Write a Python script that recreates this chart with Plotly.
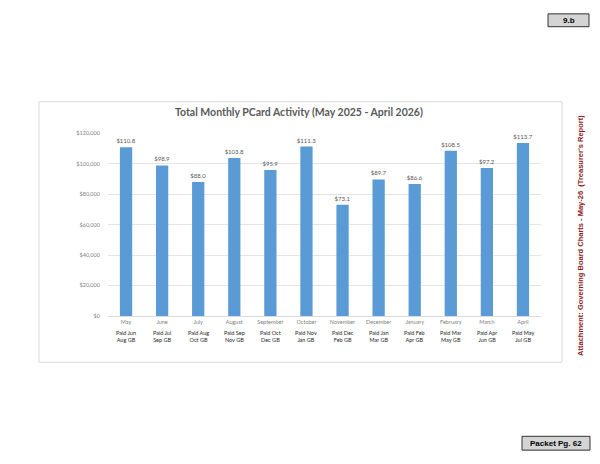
import plotly.graph_objects as go

months = ["May", "June", "July", "August", "September", "October", "November",
          "December", "January", "February", "March", "April"]
paid_labels = ["Paid Jun<br>Aug GB", "Paid Jul<br>Sep GB", "Paid Aug<br>Oct GB", "Paid Sep<br>Nov GB",
               "Paid Oct<br>Dec GB", "Paid Nov<br>Jan GB", "Paid Dec<br>Feb GB", "Paid Jan<br>Mar GB",
               "Paid Feb<br>Apr GB", "Paid Mar<br>May GB", "Paid Apr<br>Jun GB", "Paid May<br>Jul GB"]
values = [110800, 98900, 88000, 103800, 95900, 111300, 73100, 89700, 86600, 108500, 97200, 113700]
y_ticks = [0, 20000, 40000, 60000, 80000, 100000, 120000]
y_tick_text = ["$0", "$20,000", "$40,000", "$60,000", "$80,000", "$100,000", "$120,000"]
title = "Total Monthly PCard Activity (May 2025 - April 2026)"

W, H = 600, 464
def px(x):
    return x / W
def py(y):
    return 1 - y / H

fig = go.Figure()
fig.add_trace(go.Bar(
    x=months, y=values,
    marker=dict(color="#5b9bd5", line=dict(width=0)),
    width=0.34,
    text=["$%.1f" % (v / 1000) for v in values],
    textposition="outside",
    constraintext="none",
    textfont=dict(family="Lato", size=6, color="#595959"),
    cliponaxis=False,
))

annotations = []
for m, p in zip(months, paid_labels):
    annotations.append(dict(x=m, xref="x", y=py(337.5), yref="paper", text=p,
                            showarrow=False, font=dict(family="Lato", size=5.5, color="#262626"),
                            align="center", yanchor="middle"))
annotations.append(dict(x=px(298.5), y=py(110), xref="paper", yref="paper", text="<b>" + title + "</b>",
                        showarrow=False, font=dict(family="Lato", size=10.5, color="#595959"),
                        xanchor="center", yanchor="middle"))
annotations.append(dict(x=px(568.5), y=py(17.5), xref="paper", yref="paper", text="<b>9.b</b>",
                        showarrow=False, font=dict(family="Liberation Sans", size=8, color="#000000"),
                        xanchor="center", yanchor="middle"))
annotations.append(dict(x=px(556), y=py(446), xref="paper", yref="paper", text="<b>Packet Pg. 62</b>",
                        showarrow=False, font=dict(family="Liberation Sans", size=8, color="#000000"),
                        xanchor="center", yanchor="middle"))
annotations.append(dict(x=px(581), y=py(236), xref="paper", yref="paper",
                        text="<b>Attachment: Governing Board Charts - May-26  (Treasurer's Report)</b>",
                        showarrow=False, textangle=-90,
                        font=dict(family="Liberation Sans", size=7.5, color="#8b1a1a"),
                        xanchor="center", yanchor="middle"))

shapes = [
    dict(type="rect", xref="paper", yref="paper", x0=px(39), x1=px(562), y0=py(364), y1=py(100),
         line=dict(color="#d9d9d9", width=1), fillcolor="white", layer="below"),
    dict(type="rect", xref="paper", yref="paper", x0=px(548), x1=px(589), y0=py(24), y1=py(11),
         line=dict(color="#333333", width=1), fillcolor="#d4d4d4", layer="below"),
    dict(type="rect", xref="paper", yref="paper", x0=px(522), x1=px(590), y0=py(453), y1=py(439),
         line=dict(color="#333333", width=1), fillcolor="#d4d4d4", layer="below"),
]

fig.update_layout(
    width=W, height=H,
    margin=dict(l=0, r=0, t=0, b=0),
    paper_bgcolor="white", plot_bgcolor="rgba(0,0,0,0)",
    showlegend=False,
    annotations=annotations,
    shapes=shapes,
    bargap=0.66,
    xaxis=dict(domain=[px(108), px(541)], tickfont=dict(family="Lato", size=5.5, color="#7f7f7f"),
               showline=True, linecolor="#d9d9d9", linewidth=1, ticks="", showgrid=False,
               fixedrange=True),
    yaxis=dict(domain=[py(317), py(132)], range=[0, 120000], tickvals=y_ticks, ticktext=y_tick_text,
               tickfont=dict(family="Lato", size=5.5, color="#7f7f7f"),
               showgrid=True, gridcolor="#e4e4e4", gridwidth=1, zeroline=False,
               ticks="outside", ticklen=6, tickcolor="rgba(0,0,0,0)", showline=False),
)

fig.write_html("out.html")
